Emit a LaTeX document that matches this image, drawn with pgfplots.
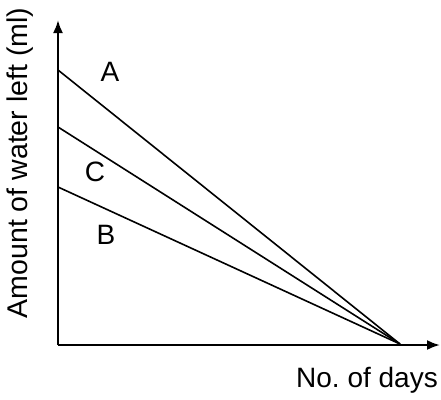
\documentclass[border=0pt]{standalone}
\usepackage{pgfplots}
\pgfplotsset{compat=1.18}
\usepackage{fontspec}
\setmainfont{Liberation Sans}
\usetikzlibrary{arrows.meta}
\frenchspacing

\begin{document}
\begin{tikzpicture}[font=\fontsize{28}{32}\selectfont]
\useasboundingbox (0pt,0pt) rectangle (441pt,-399pt);
\begin{axis}[
    at={(58pt,-345pt)}, anchor=origin,
    scale only axis,
    width=382pt, height=325pt,
    xmin=0, xmax=382,
    ymin=0, ymax=325,
    axis lines=left,
    axis line style={line width=2.2pt, -{Latex[length=13pt,width=10pt]}},
    xtick=\empty, ytick=\empty,
    clip=false,
]
    % A
    \addplot[black, line width=1.6pt] coordinates {(0,275) (342,1)};
    % C
    \addplot[black, line width=1.6pt] coordinates {(0,218) (342,1)};
    % B
    \addplot[black, line width=1.6pt] coordinates {(0,158) (342,1)};

    \node[font=\fontsize{28}{32}\selectfont] at (axis cs:52,273) {A};
    \node[font=\fontsize{28}{32}\selectfont] at (axis cs:37,173) {C};
    \node[font=\fontsize{28}{32}\selectfont] at (axis cs:48,110) {B};

    \node[rotate=90, font=\fontsize{28.5}{32}\selectfont] at (axis cs:-38,182) {Amount of water left (ml)};
    \node[font=\fontsize{28}{32}\selectfont] at (axis cs:309,-35) {No. of days};
\end{axis}
\end{tikzpicture}
\end{document}
